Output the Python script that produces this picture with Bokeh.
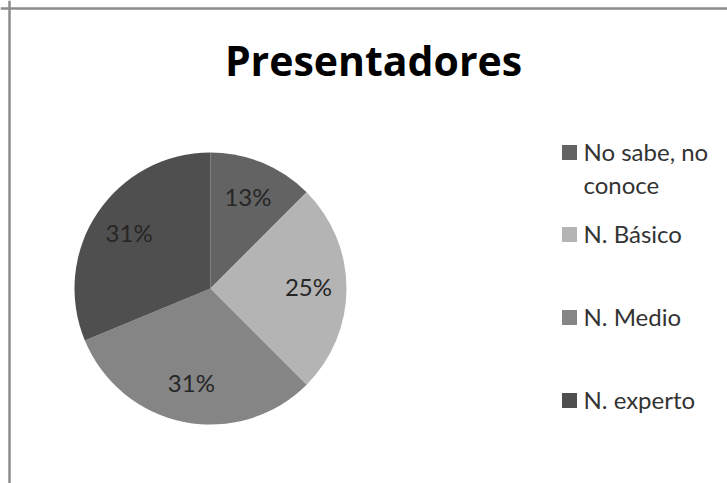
import math
from bokeh.plotting import figure
from bokeh.models import Range1d, Span
from bokeh.core.properties import value
from bokeh.embed import file_html
from bokeh.resources import INLINE

# ---- data ----
title = "Presentadores"
categories = ["No sabe, no conoce", "N. Básico", "N. Medio", "N. experto"]
legend_lines = [["No sabe, no", "conoce"], ["N. Básico"], ["N. Medio"], ["N. experto"]]
counts = [2, 4, 5, 5]
colors = ["#636363", "#b4b4b4", "#858585", "#4f4f4f"]

# ---- layout ----
W, H = 727, 483
cx, cy, R = 210, 195, 136
FONT = "Lato"

p = figure(width=W, height=H, x_range=Range1d(0, W), y_range=Range1d(0, H),
           output_backend="svg", toolbar_location=None, min_border=0,
           x_axis_type=None, y_axis_type=None)
p.grid.visible = False
p.outline_line_color = None
p.background_fill_color = "white"
p.border_fill_color = "white"

# chart frame (left & top visible)
p.add_layout(Span(location=9, dimension="height", line_color="#8c8c8c", line_width=2.5))
p.add_layout(Span(location=H - 8, dimension="width", line_color="#8c8c8c", line_width=2.5))

# ---- pie ----
total = sum(counts)
cum = 0
starts, ends, mids, pcts = [], [], [], []
for c in counts:
    a0 = math.pi / 2 - 2 * math.pi * cum / total
    cum += c
    a1 = math.pi / 2 - 2 * math.pi * cum / total
    starts.append(a0)
    ends.append(a1)
    mids.append((a0 + a1) / 2)
    pcts.append(f"{int(100 * c / total + 0.5)}%")

p.wedge(x=cx, y=cy, radius=R, start_angle=ends, end_angle=starts,
        direction="anticlock", fill_color=colors, line_color=None)

lr = 0.72 * R
p.text(x=[cx + lr * math.cos(m) for m in mids], y=[cy + lr * math.sin(m) + 2 for m in mids],
       text=pcts, text_font=value(FONT), text_font_size="24px", text_color="#262626",
       text_align="center", text_baseline="middle")

# ---- title ----
p.text(x=[373], y=[424], text=[title], text_font=value("Open Sans"), text_font_size="41px",
       text_font_style="bold", text_color="#000000", text_align="center",
       text_baseline="middle")

# ---- legend ----
row_mid = [332, 250, 167, 84]
line_h = 33
sq_x, sq_y = [], []
lx, ly, lt = [], [], []
for i, lines in enumerate(legend_lines):
    m = row_mid[i]
    sq_x.append(569)
    sq_y.append(m - 1)
    for j, t in enumerate(lines):
        lx.append(583)
        ly.append(m - j * line_h)
        lt.append(t)

p.rect(x=sq_x, y=sq_y, width=15, height=15, fill_color=colors, line_color=None)
p.text(x=lx, y=ly, text=lt, text_font=value(FONT), text_font_size="24px",
       text_color="#333333", text_align="left", text_baseline="middle")

open("out.html", "w").write(file_html(p, INLINE))
